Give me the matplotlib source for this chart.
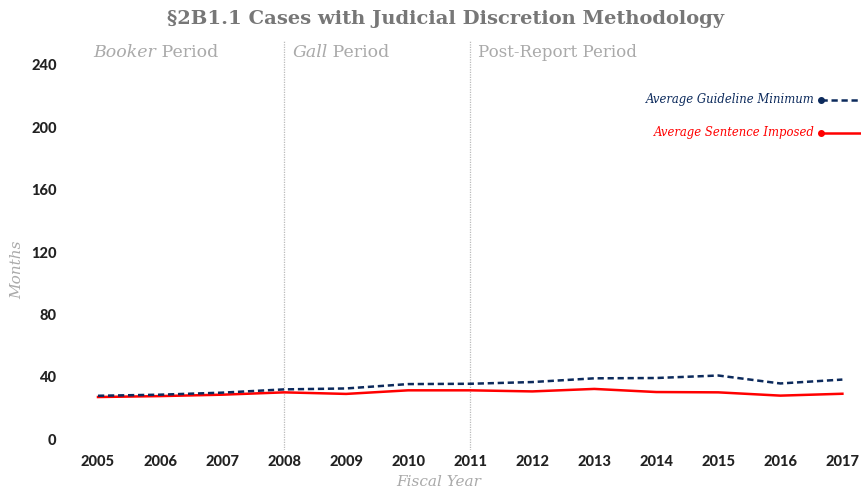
import matplotlib
matplotlib.use("Agg")
import matplotlib.pyplot as plt

years = [2005, 2006, 2007, 2008, 2009, 2010, 2011, 2012, 2013, 2014, 2015, 2016, 2017]
guideline_min = [27.8, 28.5, 29.8, 31.9, 32.5, 35.3, 35.5, 36.6, 39.0, 39.2, 40.8, 35.7, 38.2]
sentence_imposed = [27.0, 27.6, 28.5, 30.0, 29.0, 31.3, 31.3, 30.6, 32.2, 30.2, 30.0, 27.9, 29.1]
yticks = [0, 40, 80, 120, 160, 200, 240]
period_x = [2008, 2011]

fig = plt.figure(figsize=(8.61, 4.94), dpi=100)
ax = fig.add_axes([0.085, 0.089, 0.915, 0.83])
ax.set_xlim(2004.6, 2017.3)
ax.set_ylim(-7, 256)

navy = "#0c2a5c"
red = "#ff0000"
grey_txt = "#aaaaaa"

for xv in period_x:
    ax.axvline(xv, color="#bbbbbb", lw=0.9, ls=(0, (1, 1)), zorder=1)

ax.plot(years, guideline_min, color=navy, lw=1.8, ls=(0, (2.5, 1.5)), zorder=3)
ax.plot(years, sentence_imposed, color=red, lw=1.8, zorder=2)

ax.set_yticks(yticks)
ax.set_xticks(years)
ax.tick_params(axis="x", length=0, labelsize=10.5, colors="#222222", pad=3.5)
ax.tick_params(axis="y", length=0, labelsize=10.5, colors="#222222", pad=12)
for lab in ax.get_xticklabels() + ax.get_yticklabels():
    lab.set_fontweight(900)
    lab.set_family("Lato")
for s in ax.spines.values():
    s.set_visible(False)

ax.set_ylabel("Months", family="DejaVu Serif", style="italic", color=grey_txt, fontsize=11)
ax.yaxis.set_label_coords(-0.062, 0.44)
ax.set_xlabel("Fiscal Year", family="DejaVu Serif", style="italic", color=grey_txt, fontsize=11)
ax.xaxis.set_label_coords(0.464, -0.062)

fig.text(0.517, 0.962, "§2B1.1 Cases with Judicial Discretion Methodology", ha="center", va="center",
         family="DejaVu Serif", fontweight="bold", color="#777777", fontsize=14)

# period labels
def period_label(x, italic_word, rest):
    t1 = ax.text(x, 248, italic_word, family="DejaVu Serif", style="italic", color=grey_txt,
                 fontsize=12.5, va="center", ha="left")
    ax.annotate(rest, xy=(1, 0), xycoords=t1, va="bottom", ha="left",
                family="DejaVu Serif", color=grey_txt, fontsize=12.5)

period_label(2004.93, "Booker", " Period")
period_label(2008.13, "Gall", " Period")
ax.text(2011.13, 248, "Post-Report Period", family="DejaVu Serif", color=grey_txt, fontsize=12,
        va="center", ha="left")

# legend
leg_items = [("Average Guideline Minimum", navy, (0, (2.5, 1.5)), 217.6),
             ("Average Sentence Imposed", red, "-", 196.4)]
for label, col, ls, yv in leg_items:
    ax.text(2016.55, yv, label, family="DejaVu Serif", style="italic", color=col, fontsize=8.4,
            ha="right", va="center")
    ax.plot([2016.66, 2017.3], [yv, yv], color=col, lw=1.8, ls=ls, clip_on=False)
    ax.plot([2016.66], [yv], "o", color=col, ms=4, clip_on=False)

fig.savefig("out.png", dpi=100, facecolor="white")
